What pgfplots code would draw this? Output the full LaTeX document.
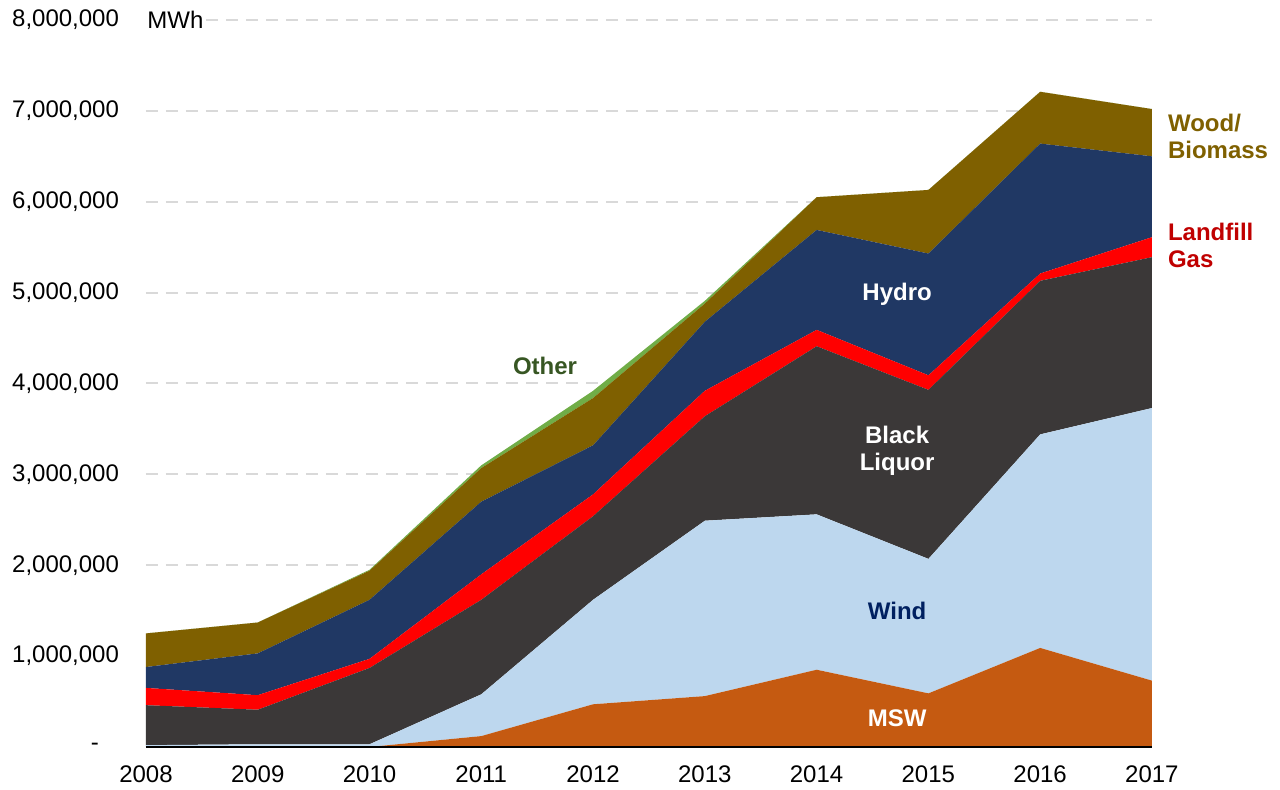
\documentclass[border=0pt]{standalone}
\usepackage{pgfplots}
\pgfplotsset{compat=1.18}
\usepackage{fontspec}
\setmainfont{Liberation Sans}
\definecolor{cMSW}{HTML}{C55A11}
\definecolor{cWind}{HTML}{BDD7EE}
\definecolor{cBL}{HTML}{3B3838}
\definecolor{cLFG}{HTML}{FF0000}
\definecolor{cHydro}{HTML}{203864}
\definecolor{cWood}{HTML}{7F6000}
\definecolor{cOther}{HTML}{70AD47}
\definecolor{tWind}{HTML}{002060}
\definecolor{tOther}{HTML}{375623}
\definecolor{tLFG}{HTML}{C00000}
\definecolor{cGrid}{HTML}{D9D9D9}
\begin{document}
\begin{tikzpicture}
\path[use as bounding box] (-73pt,-21.5pt) rectangle (567pt,373.5pt);
\begin{axis}[
  scale only axis,
  width=503pt, height=363.5pt,
  xmin=2008, xmax=2017,
  ymin=0, ymax=8000000,
  xtick={2008,...,2017},
  xticklabels={2008,2009,2010,2011,2012,2013,2014,2015,2016,2017},
  ytick={0,1000000,2000000,3000000,4000000,5000000,6000000,7000000,8000000},
  yticklabels={{\makebox[14pt][l]{-}},{1,000,000},{2,000,000},{3,000,000},{4,000,000},{5,000,000},{6,000,000},{7,000,000},{8,000,000}},
  scaled y ticks=false,
  major tick length=0pt,
  tick label style={font=\fontsize{12}{14}\selectfont, text=black},
  yticklabel style={xshift=-10pt},
  xticklabel style={yshift=-6pt},
  axis line style={draw=none},
  ymajorgrids,
  axis on top=false,
  major grid style={cGrid, line width=1pt, dash pattern=on 6pt off 4pt},
  stack plots=y,
  clip=false,
]
\addplot[fill=cMSW, draw=none] coordinates {(2008,0) (2009,0) (2010,0) (2011,120000) (2012,470000) (2013,560000) (2014,850000) (2015,590000) (2016,1090000) (2017,730000)} \closedcycle;
\addplot[fill=cWind, draw=none] coordinates {(2008,20000) (2009,30000) (2010,30000) (2011,460000) (2012,1150000) (2013,1930000) (2014,1710000) (2015,1480000) (2016,2350000) (2017,3000000)} \closedcycle;
\addplot[fill=cBL, draw=none] coordinates {(2008,440000) (2009,380000) (2010,840000) (2011,1040000) (2012,920000) (2013,1150000) (2014,1850000) (2015,1860000) (2016,1690000) (2017,1660000)} \closedcycle;
\addplot[fill=cLFG, draw=none] coordinates {(2008,190000) (2009,160000) (2010,100000) (2011,280000) (2012,240000) (2013,280000) (2014,180000) (2015,160000) (2016,80000) (2017,220000)} \closedcycle;
\addplot[fill=cHydro, draw=none] coordinates {(2008,230000) (2009,460000) (2010,650000) (2011,800000) (2012,540000) (2013,760000) (2014,1100000) (2015,1340000) (2016,1430000) (2017,890000)} \closedcycle;
\addplot[fill=cWood, draw=none] coordinates {(2008,370000) (2009,340000) (2010,320000) (2011,370000) (2012,520000) (2013,200000) (2014,360000) (2015,700000) (2016,570000) (2017,520000)} \closedcycle;
\addplot[fill=cOther, draw=none] coordinates {(2008,0) (2009,0) (2010,10000) (2011,30000) (2012,80000) (2013,30000) (2014,0) (2015,0) (2016,0) (2017,0)} \closedcycle;
\end{axis}
\begin{axis}[
  scale only axis,
  width=503pt, height=363.5pt,
  xmin=2008, xmax=2017,
  ymin=0, ymax=8000000,
  axis line style={draw=none},
  ticks=none,
  clip=false,
]
\draw[black, line width=0.8pt] (axis cs:2008,0) -- (axis cs:2017,0);
\node[anchor=west, fill=white, inner sep=0.5pt, font=\fontsize{12}{14}\selectfont] at (axis cs:2008,8000000) {MWh};
\node[font=\fontsize{12}{14}\selectfont\bfseries, text=tOther] at (axis cs:2011.57,4190000) {Other};
\node[font=\fontsize{12}{14}\selectfont\bfseries, text=white] at (axis cs:2014.72,4980000) {Hydro};
\node[font=\fontsize{12}{13.5}\selectfont\bfseries, text=white, align=center] at (axis cs:2014.72,3260000) {Black\\Liquor};
\node[font=\fontsize{12}{14}\selectfont\bfseries, text=tWind] at (axis cs:2014.72,1500000) {Wind};
\node[font=\fontsize{12}{14}\selectfont\bfseries, text=white] at (axis cs:2014.72,320000) {MSW};
\node[anchor=west, inner sep=0pt, font=\fontsize{12}{13.5}\selectfont\bfseries, text=cWood, align=left] at (axis cs:2017.14,6720000) {Wood/\\Biomass};
\node[anchor=west, inner sep=0pt, font=\fontsize{12}{13.5}\selectfont\bfseries, text=tLFG, align=left] at (axis cs:2017.14,5520000) {Landfill\\Gas};
\end{axis}
\end{tikzpicture}
\end{document}
